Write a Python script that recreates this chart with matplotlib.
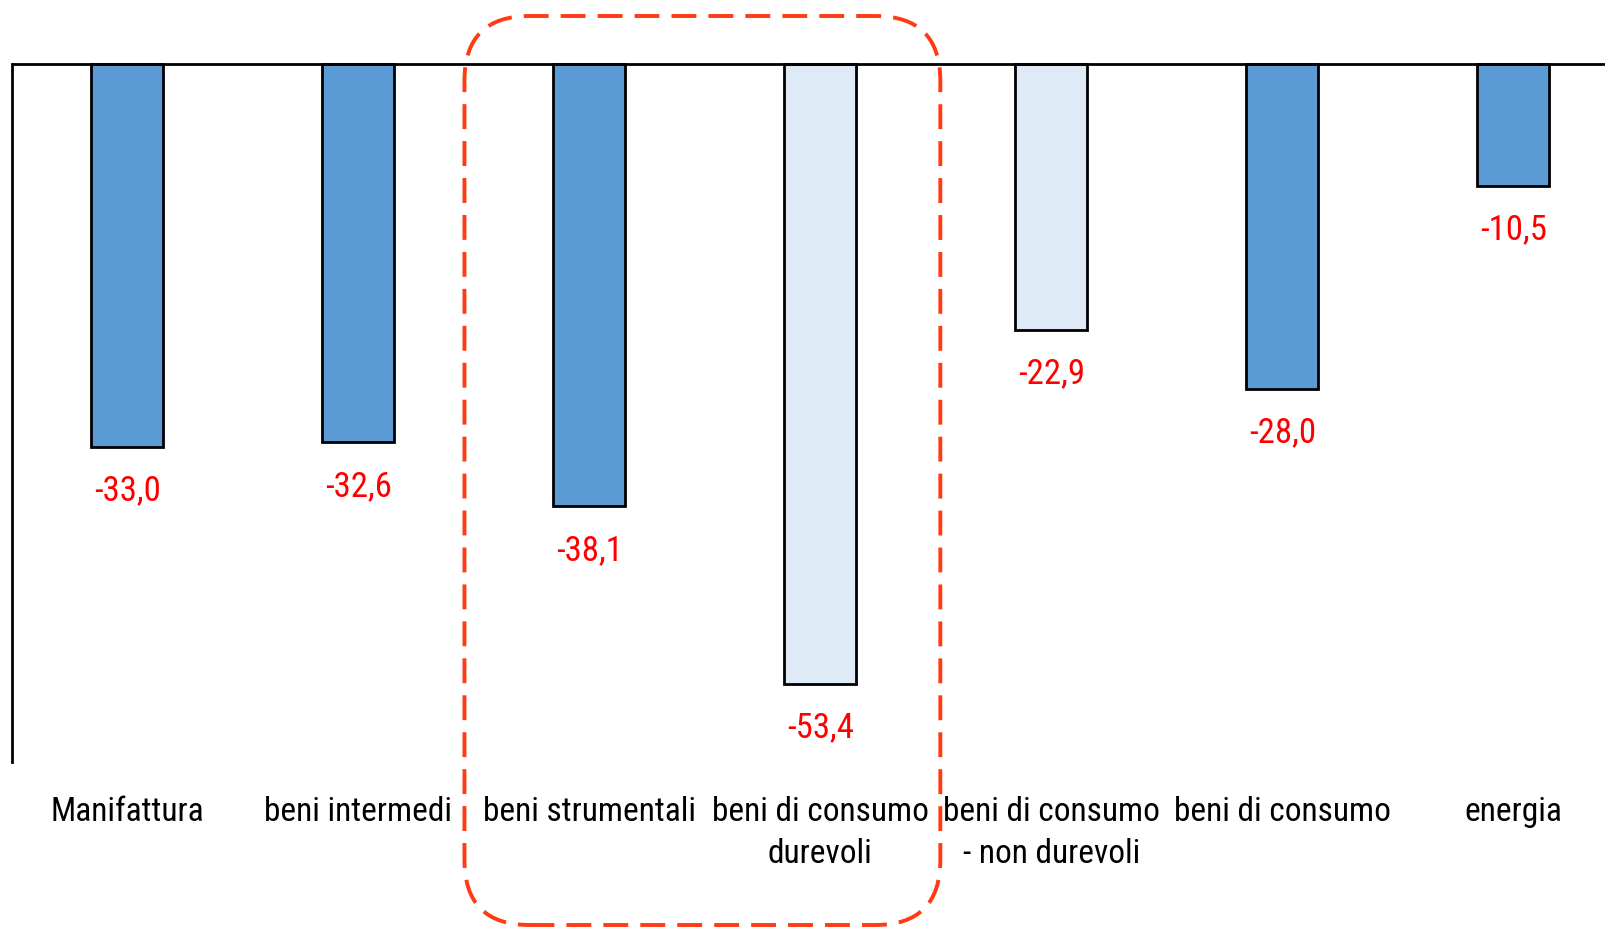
import matplotlib
matplotlib.use("Agg")
import matplotlib.pyplot as plt
from matplotlib import font_manager
from matplotlib.patches import FancyBboxPatch
from matplotlib.transforms import IdentityTransform

# Variazione % della produzione industriale per raggruppamento
categories = ["Manifattura", "beni intermedi", "beni strumentali",
              "beni di consumo\ndurevoli", "beni di consumo\n- non durevoli",
              "beni di consumo", "energia"]
values = [-33.0, -32.6, -38.1, -53.4, -22.9, -28.0, -10.5]
highlight = [False, False, False, True, True, False, False]
boxed = (2, 3)  # categories inside the dashed box

DARK = "#5B9BD5"
LIGHT = "#DEEAF6"

# the original uses a narrow Arial; take a condensed face if one is installed
installed = {f.name for f in font_manager.fontManager.ttflist}
narrow = [n for n in ["Liberation Sans Narrow", "Arial Narrow", "Roboto Condensed",
                      "Open Sans Condensed", "Noto Sans Condensed", "DejaVu Sans Condensed"]
          if n in installed]
if narrow:
    FONT = [narrow[0], "Liberation Sans", "DejaVu Sans"]
    label_size, value_size, spacing, pad = 24, 25, 1.4, 23.5
else:
    FONT = ["Liberation Sans", "DejaVu Sans"]
    label_size, value_size, spacing, pad = 22, 22, 1.5, 23.5

plt.rcParams["font.family"] = FONT

W, H, DPI = 1606, 928, 100
fig = plt.figure(figsize=(W / DPI, H / DPI), dpi=DPI)
ax = fig.add_axes([11.7 / W, 1 - 763 / H, 1 - 11.7 / W, 763 / H])

colors = [LIGHT if h else DARK for h in highlight]
x = list(range(len(values)))
ax.bar(x, values, width=0.31, color=colors, edgecolor="black", linewidth=2, zorder=2)

ax.set_xlim(-0.5, -0.5 + (W - 11.7) / 231)
ax.set_ylim(-60.1, 5.55)

# value labels under each bar
for i, v in enumerate(values):
    ax.annotate(f"{v:.1f}".replace(".", ","), xy=(i, v), xytext=(0, -31),
                textcoords="offset points", ha="center", va="center",
                color="#FF0000", fontsize=value_size)

ax.axhline(0, color="black", linewidth=2, zorder=3)
for s in ["top", "right", "bottom"]:
    ax.spines[s].set_visible(False)
ax.spines["left"].set_bounds(-60.1, 0)
ax.spines["left"].set_linewidth(2)
ax.set_yticks([])
ax.set_xticks(x, categories, fontsize=label_size, linespacing=spacing)
ax.tick_params(axis="x", length=0, pad=pad)

# dashed rounded box around the highlighted categories
left_px = ax.transData.transform((boxed[0] - 0.54, 0))[0]
right_px = ax.transData.transform((boxed[1] + 0.52, 0))[0]
box = FancyBboxPatch((left_px, H - 926), right_px - left_px, 926 - 17,
                     boxstyle="round,pad=0,rounding_size=65",
                     transform=IdentityTransform(), fill=False,
                     edgecolor="#FF3B14", linewidth=2.8,
                     linestyle=(0, (6.4, 3.1)))
fig.add_artist(box)

fig.savefig("out.png", dpi=DPI)
